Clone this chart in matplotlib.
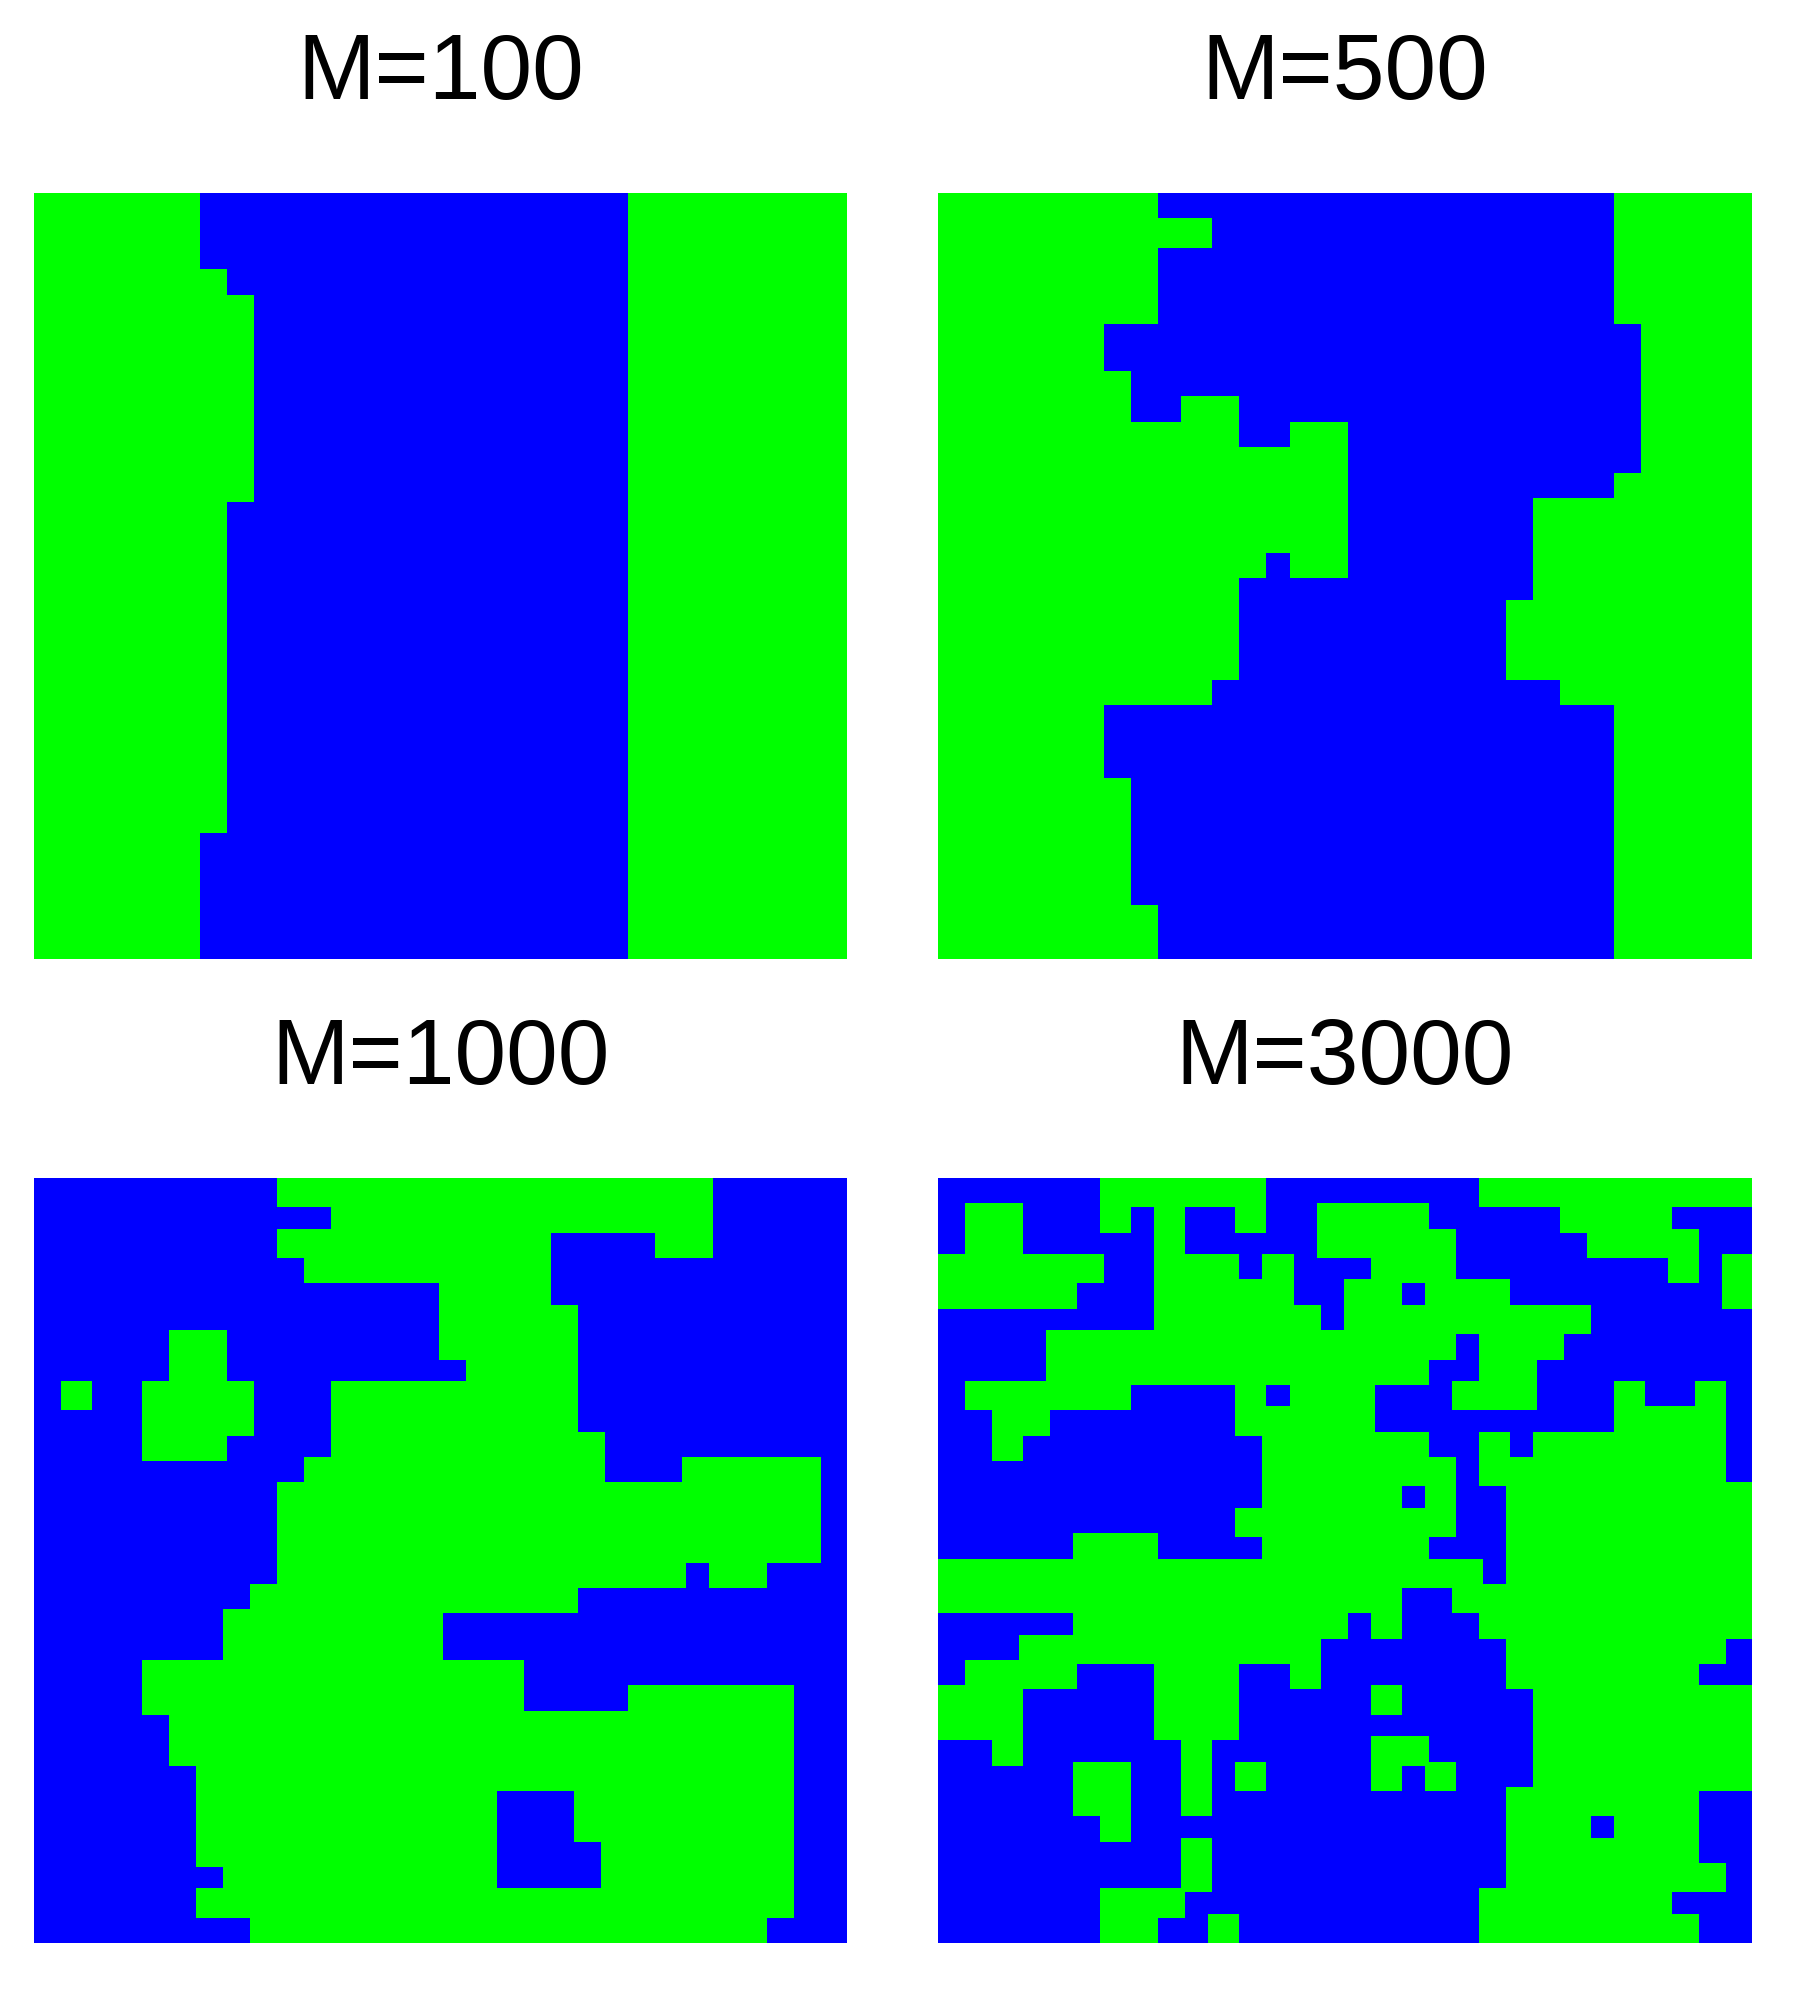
#!/usr/bin/env python3
import matplotlib
matplotlib.use("Agg")
import matplotlib.pyplot as plt

TITLES = ["M=100", "M=500", "M=1000", "M=3000"]

# green column spans (first, last) for each grid row, top row first
M100 = [
    [(0, 5), (22, 29)], [(0, 5), (22, 29)], [(0, 5), (22, 29)], [(0, 6), (22, 29)],
    [(0, 7), (22, 29)], [(0, 7), (22, 29)], [(0, 7), (22, 29)], [(0, 7), (22, 29)],
    [(0, 7), (22, 29)], [(0, 7), (22, 29)], [(0, 7), (22, 29)], [(0, 7), (22, 29)],
    [(0, 6), (22, 29)], [(0, 6), (22, 29)], [(0, 6), (22, 29)], [(0, 6), (22, 29)],
    [(0, 6), (22, 29)], [(0, 6), (22, 29)], [(0, 6), (22, 29)], [(0, 6), (22, 29)],
    [(0, 6), (22, 29)], [(0, 6), (22, 29)], [(0, 6), (22, 29)], [(0, 6), (22, 29)],
    [(0, 6), (22, 29)], [(0, 5), (22, 29)], [(0, 5), (22, 29)], [(0, 5), (22, 29)],
    [(0, 5), (22, 29)], [(0, 5), (22, 29)],
]

M500 = [
    [(0, 7), (25, 29)],
    [(0, 9), (25, 29)],
    [(0, 7), (25, 29)],
    [(0, 7), (25, 29)],
    [(0, 7), (25, 29)],
    [(0, 5), (26, 29)],
    [(0, 5), (26, 29)],
    [(0, 6), (26, 29)],
    [(0, 6), (9, 10), (26, 29)],
    [(0, 10), (13, 14), (26, 29)],
    [(0, 14), (26, 29)],
    [(0, 14), (25, 29)],
    [(0, 14), (22, 29)],
    [(0, 14), (22, 29)],
    [(0, 11), (13, 14), (22, 29)],
    [(0, 10), (22, 29)],
    [(0, 10), (21, 29)],
    [(0, 10), (21, 29)],
    [(0, 10), (21, 29)],
    [(0, 9), (23, 29)],
    [(0, 5), (25, 29)],
    [(0, 5), (25, 29)],
    [(0, 5), (25, 29)],
    [(0, 6), (25, 29)],
    [(0, 6), (25, 29)],
    [(0, 6), (25, 29)],
    [(0, 6), (25, 29)],
    [(0, 6), (25, 29)],
    [(0, 7), (25, 29)],
    [(0, 7), (25, 29)],
]

M1000 = [
    [(9, 24)],
    [(11, 24)],
    [(9, 18), (23, 24)],
    [(10, 18)],
    [(15, 18)],
    [(15, 19)],
    [(5, 6), (15, 19)],
    [(5, 6), (16, 19)],
    [(1, 1), (4, 7), (11, 19)],
    [(4, 7), (11, 19)],
    [(4, 6), (11, 20)],
    [(10, 20), (24, 28)],
    [(9, 28)],
    [(9, 28)],
    [(9, 28)],
    [(9, 23), (25, 26)],
    [(8, 19)],
    [(7, 14)],
    [(7, 14)],
    [(4, 17)],
    [(4, 17), (22, 27)],
    [(5, 27)],
    [(5, 27)],
    [(6, 27)],
    [(6, 16), (20, 27)],
    [(6, 16), (20, 27)],
    [(6, 16), (21, 27)],
    [(7, 16), (21, 27)],
    [(6, 27)],
    [(8, 26)],
]

M3000 = [
    [(6, 11), (20, 29)],
    [(1, 2), (6, 6), (8, 8), (11, 11), (14, 17), (23, 26)],
    [(1, 2), (8, 8), (14, 18), (24, 27)],
    [(0, 5), (8, 10), (12, 12), (16, 18), (27, 27), (29, 29)],
    [(0, 4), (8, 12), (15, 16), (18, 20), (29, 29)],
    [(8, 13), (15, 23)],
    [(4, 18), (20, 22)],
    [(4, 17), (20, 21)],
    [(1, 6), (11, 11), (13, 15), (19, 21), (25, 25), (28, 28)],
    [(2, 3), (11, 15), (25, 28)],
    [(2, 2), (12, 17), (20, 20), (22, 28)],
    [(12, 18), (20, 28)],
    [(12, 16), (18, 18), (21, 29)],
    [(11, 18), (21, 29)],
    [(5, 7), (12, 17), (21, 29)],
    [(0, 19), (21, 29)],
    [(0, 16), (19, 29)],
    [(5, 14), (16, 16), (20, 29)],
    [(3, 13), (21, 28)],
    [(1, 4), (8, 10), (13, 13), (21, 27)],
    [(0, 2), (8, 10), (16, 16), (22, 29)],
    [(0, 2), (8, 10), (22, 29)],
    [(2, 2), (9, 9), (16, 17), (22, 29)],
    [(5, 6), (9, 9), (11, 11), (16, 16), (18, 18), (22, 29)],
    [(5, 6), (9, 9), (21, 27)],
    [(6, 6), (21, 23), (25, 27)],
    [(9, 9), (21, 27)],
    [(9, 9), (21, 28)],
    [(6, 8), (20, 26)],
    [(6, 7), (10, 10), (20, 27)],
]

GRIDS = [M100, M500, M1000, M3000]

W, H = 1794, 2013
# green cells overlap their neighbours by about 4 px in the original raster
OVERLAP = 4


def draw_panel(ax, spans, title, panel_w, panel_h, pitch_x, pitch_y):
    ax.set_facecolor("#0000ff")
    for row, row_spans in enumerate(spans):
        for first, last in row_spans:
            cols = list(range(first, last + 1))
            ax.bar(cols, 1 + OVERLAP / pitch_y, width=1 + OVERLAP / pitch_x, bottom=row,
                   align="edge", color="#00ff00", linewidth=0)
    ax.set_xlim(0, panel_w / pitch_x)
    ax.set_ylim(panel_h / pitch_y, 0)
    ax.set_xticks([])
    ax.set_yticks([])
    for spine in ax.spines.values():
        spine.set_visible(False)
    ax.set_title(title, fontsize=67, pad=67.7, family="Liberation Sans")


def main():
    fig = plt.figure(figsize=(W / 100, H / 100), dpi=100)
    lefts = [34, 938, 34, 938]
    tops = [193, 193, 1178, 1178]
    widths = [813, 814, 813, 814]
    heights = [766, 766, 765, 765]
    pitches_x = [27.0, 27.04, 27.0, 27.04]
    pitches_y = [25.42, 25.42, 25.37, 25.37]
    for i in range(4):
        ax = fig.add_axes([lefts[i] / W, 1 - (tops[i] + heights[i]) / H, widths[i] / W, heights[i] / H])
        draw_panel(ax, GRIDS[i], TITLES[i], widths[i], heights[i], pitches_x[i], pitches_y[i])
    fig.savefig("out.png", dpi=100)


if __name__ == "__main__":
    main()
